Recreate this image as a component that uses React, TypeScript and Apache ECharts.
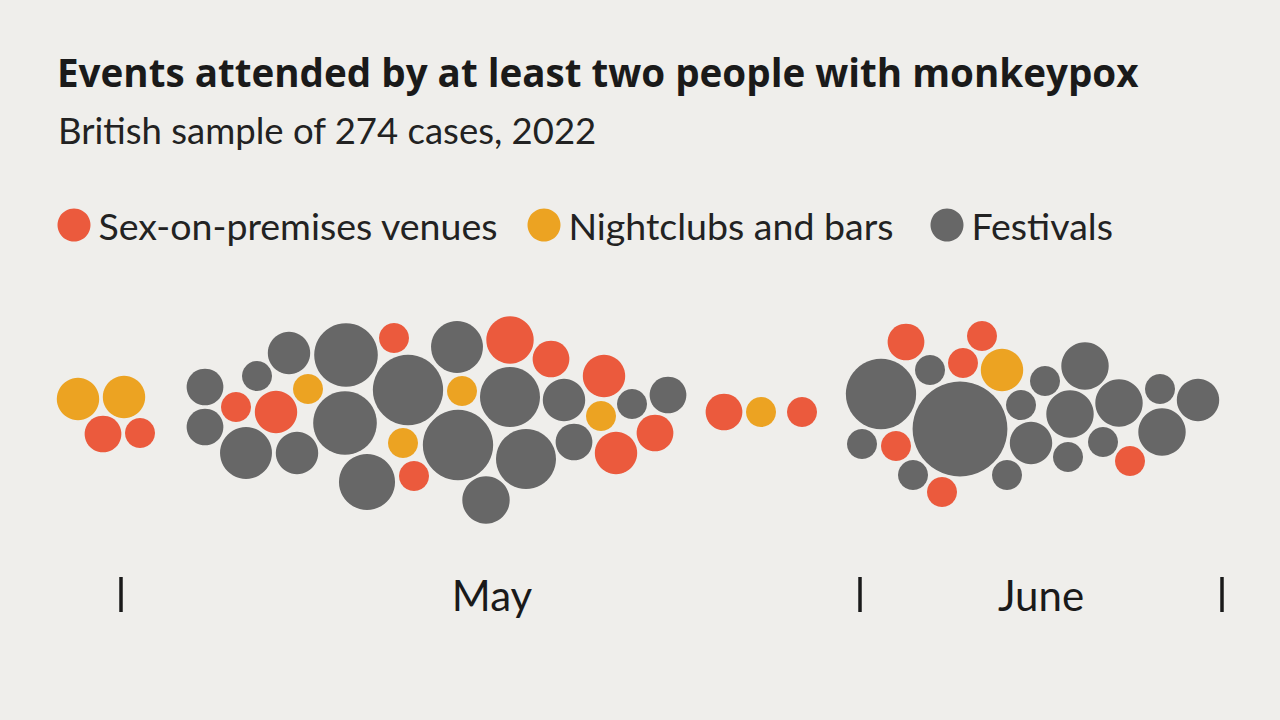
import React, { useEffect, useRef } from "react";
import * as echarts from "echarts";

// [position along timeline, vertical offset, number of people]
const sexVenues: [number, number, number][] = [
  [103, -22, 3], [140, -21, 2], [394, 74, 2], [236, 5, 2], [276, 0, 4],
  [414, -64, 2], [510, 72, 5], [551, 53, 3], [604, 36, 4], [616, -41, 4],
  [655, -21, 3], [724, 0, 3], [802, 0, 2], [906, 70, 3], [982, 76, 2],
  [963, 49, 2], [896, -34, 2], [942, -80, 2], [1130, -49, 2],
];

const nightclubs: [number, number, number][] = [
  [78, 13, 4], [124, 15, 4], [308, 23, 2], [403, -31, 2], [462, 21, 2],
  [601, -4, 2], [761, 0, 2], [1002, 42, 4],
];

const festivals: [number, number, number][] = [
  [205, 25, 3], [205, -15, 3], [257, 36, 2], [289, 59, 4], [346, 57, 9],
  [246, -41, 6], [297, -41, 4], [345, -11, 9], [408, 22, 11], [367, -70, 7],
  [457, 65, 6], [510, 15, 8], [564, 12, 4], [632, 8, 2], [668, 17, 3],
  [458, -33, 11], [526, -47, 8], [574, -30, 3], [486, -88, 5], [930, 42, 2],
  [881, 18, 11], [960, -17, 20], [862, -32, 2], [913, -63, 2], [1007, -63, 2],
  [1045, 31, 2], [1085, 46, 5], [1021, 7, 2], [1070, -2, 5], [1031, -31, 4],
  [1068, -45, 2], [1119, 9, 5], [1103, -30, 2], [1160, 23, 2], [1198, 12, 4],
  [1162, -20, 5],
];

const seriesNames = ["Sex-on-premises venues", "Nightclubs and bars", "Festivals"];
const monthTickPositions = [121, 860, 1222];
const monthLabelPositions = [492, 1041];
const monthLabels = ["May", "June"];

const COLORS = ["#EB5A3D", "#ECA322", "#676767"];
const BG = "#EFEEEB";
const BODY_FONT = "Lato, 'Noto Sans', sans-serif";

export default function App() {
  const ref = useRef<HTMLDivElement>(null);
  useEffect(() => {
    if (!ref.current) return;
    const chart = echarts.init(ref.current, undefined, { renderer: "svg" });
    const sizeOf = (v: number[]) => 21.2 * Math.sqrt(v[2]);
    const legendLefts = [57.5, 527.5, 930.5];
    chart.setOption({
      animation: false,
      backgroundColor: BG,
      title: [
        {
          text: "Events attended by at least two people with monkeypox",
          left: 57,
          top: 52,
          padding: 0,
          textStyle: {
            fontFamily: "'Open Sans', 'Noto Sans', sans-serif",
            fontWeight: "bold",
            fontSize: 38.6,
            lineHeight: 40,
            color: "#1a1a1a",
          },
        },
        {
          text: "British sample of 274 cases, 2022",
          left: 58,
          top: 110,
          padding: 0,
          textStyle: {
            fontFamily: BODY_FONT,
            fontWeight: "normal",
            fontSize: 36.5,
            lineHeight: 39,
            color: "#222",
          },
        },
      ],
      legend: seriesNames.map((name, i) => ({
        data: [name],
        left: legendLefts[i],
        top: 206,
        padding: 0,
        icon: "circle",
        itemWidth: 33,
        itemHeight: 33,
        selectedMode: false,
        textStyle: { fontFamily: BODY_FONT, fontSize: 37.5, color: "#222", padding: [0, 0, 0, 3] },
      })),
      grid: { left: 0, right: 0, top: 212, height: 365 },
      xAxis: {
        type: "value",
        min: 0,
        max: 1280,
        axisLine: { show: false, onZero: false },
        splitLine: { show: false },
        axisTick: {
          show: true,
          customValues: monthTickPositions,
          length: 35,
          lineStyle: { color: "#1a1a1a", width: 3.5 },
        },
        axisLabel: {
          show: true,
          customValues: monthLabelPositions,
          formatter: (v: number) => monthLabels[monthLabelPositions.indexOf(v)] ?? "",
          fontFamily: BODY_FONT,
          fontSize: 42,
          lineHeight: 44,
          color: "#1a1a1a",
          verticalAlign: "middle",
          margin: 18,
        },
      },
      yAxis: {
        type: "value",
        min: -165,
        max: 200,
        show: false,
      },
      series: [sexVenues, nightclubs, festivals].map((data, i) => ({
        name: seriesNames[i],
        type: "scatter",
        data,
        symbol: "circle",
        symbolSize: sizeOf,
        itemStyle: { color: COLORS[i], opacity: 1 },
        emphasis: { disabled: true },
      })),
    });
    return () => chart.dispose();
  }, []);
  return (
    <div
      ref={ref}
      style={{ position: "absolute", left: 0, top: 0, width: 1280, height: 720, background: BG }}
    />
  );
}
